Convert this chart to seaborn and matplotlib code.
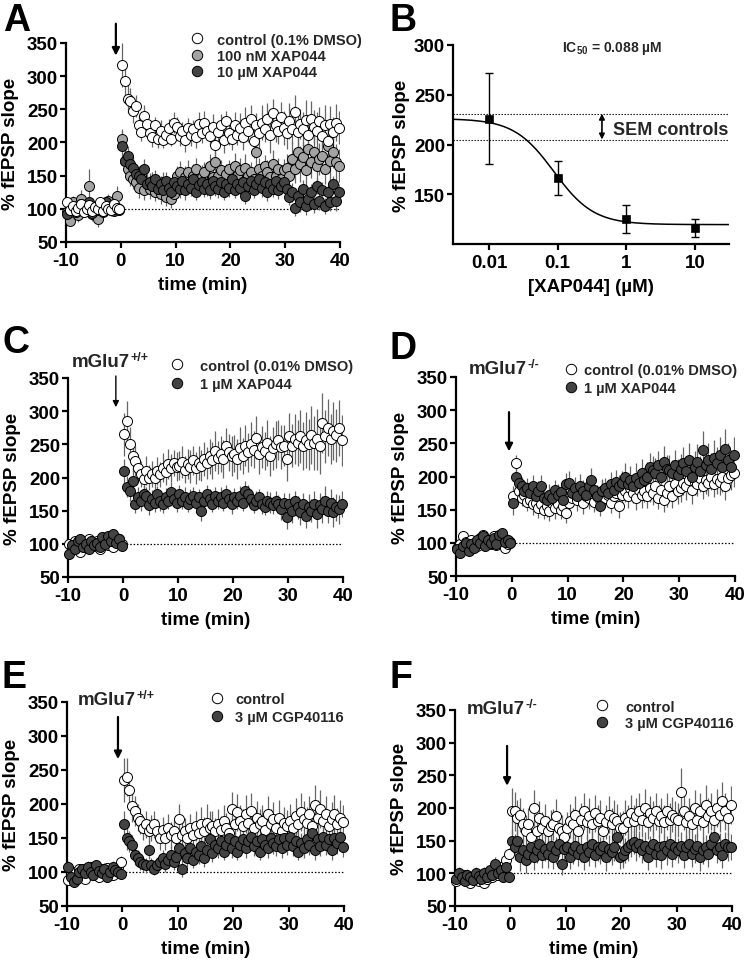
import numpy as np
import matplotlib
matplotlib.use("Agg")
import matplotlib.pyplot as plt
import seaborn as sns
from matplotlib.lines import Line2D

sns.set_theme(style="ticks")
plt.rcParams['font.family'] = ['Liberation Sans', 'DejaVu Sans']
plt.rcParams['font.weight'] = 'bold'
plt.rcParams['axes.labelweight'] = 'bold'
plt.rcParams['axes.unicode_minus'] = False
plt.rcParams['mathtext.fontset'] = 'custom'
plt.rcParams['mathtext.rm'] = 'Liberation Sans:bold'
plt.rcParams['mathtext.bf'] = 'Liberation Sans:bold'
plt.rcParams['mathtext.it'] = 'Liberation Sans:bold'
plt.rcParams['mathtext.default'] = 'rm'

# ---------------- data ----------------
TIME = np.arange(-9.75, 40, 0.5)          # sampling grid (min), 100 points

A_CTRL = [110, 98, 104, 96, 102, 108, 95, 100, 106, 97, 103, 99, 110, 96, 104, 100, 98, 107, 101, 99,
          317, 292, 266, 262, 248, 255, 226, 216, 240, 228,
          214, 208, 226, 205, 218, 204, 212, 222, 206, 230,
          224, 210, 218, 204, 222, 212, 220, 208, 228, 214,
          230, 218, 210, 224, 196, 216, 226, 204, 232, 214,
          206, 226, 212, 222, 208, 230, 218, 236, 202, 226,
          214, 230, 220, 236, 212, 244, 226, 218, 238, 222,
          214, 232, 220, 246, 216, 228, 220, 234, 212, 236,
          224, 218, 232, 210, 226, 202, 228, 216, 230, 222]
A_CTRL_SEM = [8, 6, 7, 5, 6, 8, 5, 6, 7, 5, 6, 5, 8, 6, 7, 5, 6, 7, 6, 5,
              33, 28, 22, 20, 18, 16, 15, 14, 16, 14,
              13, 15, 12, 14, 16, 13, 15, 14, 12, 16,
              14, 16, 13, 18, 15, 17, 14, 16, 18, 15,
              17, 14, 16, 19, 22, 15, 17, 20, 16, 18,
              18, 20, 16, 22, 19, 24, 18, 21, 25, 19,
              22, 26, 20, 24, 28, 22, 25, 20, 23, 26,
              24, 27, 22, 25, 28, 23, 26, 30, 24, 27,
              25, 28, 22, 26, 30, 24, 27, 23, 28, 25]
A_100NM = [95, 82, 110, 100, 90, 115, 98, 105, 135, 92, 100, 85, 108, 95, 102, 112, 98, 105, 120, 100,
           205, 172, 160, 150, 145, 140, 132, 150, 128, 138,
           130, 142, 125, 136, 122, 140, 118, 130, 115, 122,
           150, 155, 140, 148, 156, 138, 150, 160, 142, 148,
           155, 135, 165, 148, 170, 150, 158, 140, 152, 160,
           145, 165, 150, 158, 140, 162, 150, 155, 145, 185,
           160, 150, 165, 155, 148, 168, 150, 160, 145, 158,
           162, 150, 175, 160, 185, 168, 178, 158, 190, 170,
           185, 165, 175, 180, 160, 195, 172, 185, 170, 165]
A_100NM_SEM = [10, 8, 9, 12, 10, 14, 9, 11, 25, 10, 9, 12, 10, 8, 11, 10, 9, 12, 14, 10,
               15, 20, 18, 16, 15, 14, 16, 15, 14, 16,
               15, 14, 13, 15, 14, 16, 13, 15, 14, 13,
               15, 17, 14, 16, 18, 15, 17, 16, 14, 18,
               16, 15, 17, 14, 18, 16, 15, 17, 16, 14,
               17, 19, 16, 18, 15, 20, 17, 16, 18, 20,
               17, 19, 16, 18, 17, 20, 18, 16, 19, 17,
               20, 22, 25, 21, 24, 27, 22, 26, 28, 23,
               25, 27, 24, 28, 22, 26, 29, 24, 27, 25]
A_10UM = [92, 98, 105, 95, 100, 108, 97, 103, 110, 94, 102, 98, 105, 96, 110, 100, 104, 97, 102, 98,
          195, 172, 180, 168, 162, 152, 150, 145, 160, 138,
          140, 135, 145, 130, 138, 128, 142, 132, 125, 140,
          135, 130, 142, 128, 138, 132, 145, 125, 136, 140,
          130, 138, 128, 142, 135, 130, 140, 126, 138, 132,
          145, 128, 138, 132, 140, 120, 135, 142, 128, 138,
          145, 132, 140, 125, 138, 130, 142, 128, 135, 140,
          130, 118, 125, 102, 120, 110, 130, 105, 115, 125,
          108, 135, 112, 128, 104, 125, 110, 138, 112, 125]
A_10UM_SEM = [6, 5, 7, 6, 5, 8, 6, 5, 7, 6, 5, 6, 7, 5, 6, 8, 5, 6, 7, 6,
              22, 18, 15, 14, 16, 13, 14, 12, 15, 13,
              14, 12, 13, 15, 12, 14, 13, 12, 14, 13,
              12, 14, 13, 15, 12, 13, 14, 12, 15, 13,
              12, 14, 13, 12, 15, 13, 14, 12, 13, 14,
              13, 12, 14, 13, 15, 12, 13, 14, 12, 15,
              13, 14, 12, 13, 15, 12, 14, 13, 12, 14,
              13, 12, 14, 13, 12, 15, 13, 14, 12, 13,
              15, 12, 14, 13, 12, 14, 13, 12, 15, 13]

XAP_CONC = [0.01, 0.1, 1, 10]
XAP_MEAN = [226, 166, 125, 116]
XAP_SEM = [46, 17, 14, 9]
FIT_TOP, FIT_BOTTOM, FIT_IC50, FIT_HILL = 226, 119.5, 0.088, 1.5
SEM_CTRL_HI, SEM_CTRL_LO = 231, 205

C_CTRL = [100, 92, 105, 98, 88, 102, 95, 108, 100, 97, 104, 92, 100, 106, 98, 102, 95, 104, 108, 100,
          265, 285, 250, 232, 225, 215, 205, 198, 210, 200,
          205, 200, 210, 205, 215, 208, 220, 214, 222, 216,
          218, 224, 212, 220, 216, 226, 214, 222, 218, 228,
          222, 232, 226, 240, 230, 236, 228, 248, 238, 232,
          236, 228, 244, 232, 248, 238, 250, 242, 260, 236,
          246, 240, 252, 232, 244, 250, 256, 246, 248, 228,
          262, 248, 258, 252, 262, 248, 256, 250, 264, 252,
          258, 248, 282, 262, 275, 258, 270, 264, 275, 256]
C_CTRL_SEM = [5, 6, 4, 5, 6, 5, 4, 6, 5, 5, 6, 4, 5, 6, 5, 4, 6, 5, 5, 6,
              32, 30, 26, 24, 22, 20, 20, 18, 22, 19,
              20, 18, 21, 19, 22, 20, 23, 21, 20, 22,
              22, 24, 21, 23, 25, 22, 24, 26, 23, 25,
              24, 26, 28, 30, 25, 27, 29, 26, 28, 30,
              28, 30, 32, 27, 31, 29, 33, 28, 32, 30,
              31, 29, 34, 30, 32, 35, 30, 33, 31, 34,
              35, 32, 38, 34, 40, 36, 42, 38, 44, 40,
              46, 42, 45, 40, 43, 38, 44, 40, 42, 38]
C_XAP = [85, 98, 92, 105, 108, 95, 100, 92, 105, 98, 102, 95, 110, 100, 112, 104, 115, 102, 108, 97,
         210, 186, 180, 195, 160, 170, 165, 175, 172, 158,
         168, 162, 175, 165, 160, 170, 165, 178, 168, 162,
         175, 165, 170, 160, 168, 172, 162, 170, 150, 165,
         175, 168, 160, 172, 165, 170, 162, 175, 168, 160,
         170, 165, 172, 162, 180, 175, 168, 158, 165, 170,
         160, 155, 165, 162, 158, 165, 160, 152, 162, 140,
         160, 150, 165, 155, 148, 160, 142, 155, 150, 160,
         145, 158, 152, 165, 150, 162, 148, 155, 152, 160]
C_XAP_SEM = [8, 6, 7, 9, 6, 8, 7, 6, 8, 7, 6, 8, 7, 9, 6, 8, 7, 6, 8, 7,
             18, 16, 15, 20, 14, 16, 15, 13, 14, 15,
             13, 14, 12, 15, 13, 14, 12, 15, 13, 14,
             14, 13, 15, 12, 14, 13, 15, 12, 16, 14,
             13, 15, 12, 14, 13, 15, 12, 14, 13, 15,
             14, 13, 15, 12, 14, 13, 15, 12, 14, 13,
             15, 12, 14, 16, 13, 15, 14, 16, 15, 18,
             16, 18, 15, 17, 19, 16, 18, 20, 17, 19,
             21, 18, 20, 22, 19, 21, 23, 20, 22, 20]

D_CTRL = [92, 98, 110, 102, 96, 104, 100, 95, 108, 112, 100, 104, 98, 110, 96, 102, 100, 92, 98, 102,
          170, 220, 178, 168, 172, 162, 165, 158, 160, 152,
          158, 150, 155, 148, 160, 152, 158, 150, 155, 145,
          160, 168, 175, 165, 172, 160, 170, 168, 175, 162,
          170, 165, 178, 168, 172, 160, 170, 175, 155, 172,
          178, 170, 182, 175, 168, 180, 172, 178, 170, 182,
          175, 185, 168, 180, 165, 175, 185, 170, 188, 178,
          182, 190, 185, 195, 180, 192, 188, 198, 185, 195,
          190, 200, 188, 196, 192, 200, 185, 198, 202, 205]
D_CTRL_SEM = [6, 5, 7, 6, 5, 6, 7, 5, 6, 7, 5, 6, 7, 5, 6, 7, 5, 6, 7, 6,
              15, 12, 14, 13, 15, 14, 13, 16, 14, 15,
              13, 14, 16, 15, 14, 16, 15, 14, 13, 15,
              16, 14, 15, 17, 14, 16, 15, 17, 14, 16,
              15, 17, 16, 14, 17, 15, 16, 14, 17, 15,
              16, 18, 17, 15, 18, 16, 19, 17, 18, 20,
              18, 19, 17, 20, 18, 21, 19, 17, 20, 19,
              20, 18, 21, 19, 22, 20, 18, 21, 19, 22,
              20, 21, 19, 22, 20, 23, 21, 19, 22, 21]
D_XAP = [90, 85, 95, 100, 88, 98, 92, 105, 100, 110, 95, 104, 100, 108, 98, 112, 115, 102, 105, 100,
         160, 200, 190, 185, 178, 182, 175, 185, 170, 178,
         185, 168, 165, 172, 168, 180, 172, 176, 165, 188,
         190, 175, 182, 170, 186, 178, 172, 185, 195, 180,
         170, 155, 178, 182, 175, 188, 180, 192, 185, 190,
         200, 188, 195, 185, 198, 190, 205, 195, 200, 215,
         210, 205, 218, 200, 222, 212, 210, 205, 218, 202,
         212, 220, 208, 225, 200, 215, 222, 208, 240, 218,
         225, 212, 228, 220, 232, 215, 242, 225, 215, 232]
D_XAP_SEM = [8, 6, 7, 8, 6, 7, 8, 6, 7, 8, 6, 7, 8, 6, 7, 8, 6, 7, 8, 6,
             18, 20, 16, 15, 17, 16, 15, 17, 16, 15,
             17, 16, 15, 17, 16, 15, 17, 16, 15, 17,
             18, 16, 17, 15, 18, 16, 17, 15, 18, 16,
             17, 15, 18, 16, 17, 19, 16, 18, 17, 19,
             20, 18, 21, 19, 22, 20, 21, 19, 22, 20,
             21, 23, 20, 22, 24, 21, 23, 20, 22, 24,
             22, 25, 23, 26, 22, 24, 27, 23, 28, 25,
             26, 24, 27, 25, 28, 24, 30, 26, 25, 27]

E_CTRL = [88, 95, 100, 92, 105, 98, 90, 102, 108, 95, 100, 92, 104, 98, 106, 100, 95, 103, 108, 115,
          235, 240, 220, 197, 190, 180, 175, 165, 170, 160,
          165, 170, 160, 150, 162, 150, 165, 155, 160, 150,
          178, 155, 160, 150, 165, 155, 168, 158, 170, 160,
          172, 165, 168, 160, 170, 162, 175, 165, 158, 192,
          170, 188, 175, 168, 185, 172, 190, 165, 180, 170,
          175, 162, 185, 170, 178, 165, 180, 160, 172, 168,
          175, 165, 182, 170, 188, 178, 172, 185, 168, 198,
          180, 192, 175, 185, 168, 178, 185, 170, 180, 173]
E_CTRL_SEM = [6, 5, 7, 6, 5, 6, 7, 5, 6, 7, 5, 6, 7, 5, 6, 7, 5, 6, 7, 8,
              32, 28, 25, 24, 22, 20, 19, 18, 20, 18,
              19, 20, 18, 17, 19, 18, 20, 19, 18, 17,
              22, 18, 20, 17, 21, 19, 22, 20, 25, 21,
              28, 24, 22, 20, 23, 21, 24, 22, 20, 26,
              24, 27, 23, 25, 28, 24, 26, 22, 25, 23,
              24, 22, 27, 23, 25, 21, 26, 22, 24, 23,
              25, 23, 27, 24, 28, 26, 24, 27, 23, 30,
              26, 28, 24, 27, 23, 25, 28, 24, 26, 25]
E_CGP = [108, 92, 85, 90, 100, 105, 98, 108, 100, 95, 110, 102, 98, 105, 92, 100, 108, 103, 100, 97,
         170, 150, 145, 140, 125, 120, 115, 112, 110, 133,
         110, 105, 110, 115, 120, 112, 118, 125, 115, 122,
         135, 105, 128, 120, 135, 118, 130, 125, 138, 120,
         132, 148, 128, 140, 135, 145, 130, 140, 150, 135,
         145, 130, 140, 148, 135, 145, 152, 138, 145, 130,
         148, 140, 135, 150, 142, 138, 148, 135, 150, 140,
         152, 138, 145, 130, 142, 135, 148, 140, 158, 132,
         148, 138, 152, 140, 148, 132, 150, 142, 152, 137]
E_CGP_SEM = [8, 6, 7, 6, 8, 7, 6, 8, 7, 6, 8, 7, 6, 8, 7, 6, 8, 7, 6, 7,
             20, 18, 16, 15, 14, 13, 12, 12, 11, 14,
             11, 10, 11, 12, 13, 12, 12, 13, 12, 13,
             14, 12, 13, 12, 14, 12, 13, 13, 14, 12,
             13, 15, 13, 14, 14, 15, 13, 14, 15, 14,
             15, 13, 14, 15, 14, 15, 16, 14, 15, 13,
             15, 14, 14, 16, 15, 14, 15, 14, 16, 15,
             16, 14, 15, 13, 15, 14, 16, 15, 17, 14,
             16, 15, 16, 15, 16, 14, 16, 15, 16, 15]

F_CTRL = [88, 95, 92, 98, 90, 85, 95, 92, 88, 96, 85, 92, 98, 95, 102, 98, 110, 105, 120, 130,
          195, 195, 185, 190, 175, 165, 175, 155, 200, 165,
          185, 170, 180, 165, 172, 175, 188, 170, 165, 155,
          170, 180, 175, 190, 165, 182, 195, 178, 188, 175,
          192, 180, 185, 165, 178, 190, 175, 185, 180, 170,
          170, 185, 178, 192, 180, 188, 195, 182, 200, 178,
          192, 185, 195, 180, 188, 178, 195, 182, 190, 185,
          182, 225, 195, 178, 188, 175, 200, 182, 195, 178,
          205, 188, 195, 182, 200, 190, 210, 195, 185, 205]
F_CTRL_SEM = [8, 7, 6, 7, 8, 6, 7, 8, 6, 7, 8, 6, 7, 8, 7, 6, 8, 7, 8, 9,
              35, 30, 28, 26, 25, 24, 25, 22, 28, 24,
              25, 24, 26, 23, 25, 24, 26, 23, 25, 22,
              24, 26, 25, 28, 23, 26, 28, 25, 27, 24,
              28, 25, 27, 23, 26, 28, 25, 27, 26, 24,
              25, 27, 26, 28, 25, 27, 28, 26, 29, 25,
              27, 26, 28, 25, 27, 26, 28, 26, 27, 26,
              26, 36, 28, 25, 27, 24, 28, 26, 28, 25,
              30, 27, 28, 26, 29, 27, 30, 28, 26, 29]
F_CGP = [92, 100, 95, 88, 98, 94, 90, 100, 96, 92, 100, 95, 105, 98, 115, 100, 105, 95, 110, 95,
         150, 140, 150, 125, 135, 120, 130, 140, 125, 135,
         145, 128, 138, 130, 142, 125, 135, 145, 115, 138,
         140, 125, 135, 142, 130, 138, 125, 140, 132, 145,
         128, 140, 135, 142, 125, 138, 132, 140, 155, 125,
         128, 135, 140, 145, 148, 140, 145, 135, 142, 125,
         138, 145, 130, 140, 128, 142, 135, 145, 130, 140,
         135, 142, 128, 140, 145, 130, 138, 142, 125, 135,
         140, 130, 145, 155, 135, 140, 128, 145, 140, 140]
F_CGP_SEM = [8, 9, 7, 8, 9, 7, 8, 9, 7, 8, 9, 7, 8, 9, 10, 8, 9, 8, 10, 8,
             18, 20, 18, 22, 19, 20, 18, 21, 20, 19,
             21, 20, 19, 22, 20, 19, 21, 20, 18, 20,
             20, 19, 21, 20, 19, 21, 20, 19, 21, 20,
             19, 21, 20, 19, 21, 20, 19, 21, 22, 19,
             20, 19, 21, 20, 19, 21, 20, 19, 21, 20,
             19, 21, 20, 19, 21, 20, 22, 19, 21, 20,
             19, 21, 20, 19, 21, 20, 22, 19, 21, 20,
             19, 21, 20, 22, 19, 21, 20, 19, 21, 20]

TIME_TICKS = [-10, 0, 10, 20, 30, 40]
SLOPE_TICKS = [50, 100, 150, 200, 250, 300, 350]
XAP_TICKS = [0.01, 0.1, 1, 10]
XAP_TICKLABELS = ['0.01', '0.1', '1', '10']

WHITE, GRAY, DARK = 'white', '#a3a3a3', '#434343'
ERR = '#666666'

# ---------------- helpers ----------------
W, H = 745, 962
fig = plt.figure(figsize=(W / 100, H / 100), dpi=100)


def fx(x):
    return x / W


def fy(y):
    return 1 - y / H


def add_ax(left, top, right, bottom):
    return fig.add_axes([fx(left), fy(bottom), (right - left) / W, (bottom - top) / H])


def style_axes(ax, ylab_x):
    sns.despine(ax=ax)
    for s in ['left', 'bottom']:
        ax.spines[s].set_linewidth(1.6)
        ax.spines[s].set_color('black')
    ax.tick_params(axis='both', width=1.6, length=4.5, labelsize=13.5, colors='black', pad=1.2)
    ax.tick_params(axis='x', pad=2.5)
    ax.set_ylabel('% fEPSP slope', fontsize=13.5, fontweight='bold', color='black')
    ax.yaxis.set_label_coords(ylab_x, 0.5)


def time_panel(ax, series, ylab_x):
    for y, e, face in series:
        y = np.asarray(y, float)
        e = np.asarray(e, float)
        ax.vlines(TIME, y - e, y + e, color=ERR, lw=0.9, zorder=1)
    for y, e, face in series:
        sns.scatterplot(x=TIME, y=y, ax=ax, color=face, edgecolor='black', linewidth=0.7,
                        s=52, zorder=3, legend=False, clip_on=False)
    ax.hlines(100, 0, 40, colors='black', linestyles=(0, (1.2, 1.5)), lw=0.9, zorder=0)
    ax.set_xlim(-10, 40)
    ax.set_ylim(50, 350)
    ax.set_xticks(TIME_TICKS)
    ax.set_yticks(SLOPE_TICKS)
    ax.set_xlabel('time (min)', fontsize=13.5, fontweight='bold', color='black', labelpad=5)
    style_axes(ax, ylab_x)


def legend(ax, entries, x0, top, hl, pad, ls):
    handles = [Line2D([], [], marker='o', ls='', markersize=7.5, mfc=c, mec='black', mew=0.7)
               for c, _ in entries]
    labels = [t for _, t in entries]
    ax.legend(handles, labels, loc='upper left', bbox_to_anchor=(fx(x0), fy(top)),
              bbox_transform=fig.transFigure, frameon=False, borderpad=0, borderaxespad=0,
              handlelength=hl, handletextpad=pad, labelspacing=ls,
              prop={'size': 10.5, 'weight': 'bold'})


def arrow(ax, x, y_tail, y_tip, lw=1.6, ms=11):
    ax.annotate('', xy=(x, y_tip), xytext=(x, y_tail), annotation_clip=False,
                arrowprops=dict(arrowstyle='-|>', color='black', lw=lw, mutation_scale=ms,
                                shrinkA=0, shrinkB=0))


def letter(x, y, t):
    fig.text(fx(x), fy(y), t, fontsize=27, fontweight='bold', va='top', ha='left', color='black')


def genotype(ax, x, y_base, sup):
    t = fig.text(fx(x), fy(y_base), 'mGlu7', fontsize=13.5, fontweight='bold', va='baseline')
    ax.annotate(sup, xy=(1.0, 1.0), xycoords=t, xytext=(0.5, 1.5), textcoords='offset points',
                fontsize=9, fontweight='bold', ha='left', va='top', annotation_clip=False)


# ---------------- Panel A ----------------
axA = add_ax(66, 44, 340, 243)
time_panel(axA, [(A_100NM, A_100NM_SEM, GRAY), (A_10UM, A_10UM_SEM, DARK),
                 (A_CTRL, A_CTRL_SEM, WHITE)], -0.17)
arrow(axA, -0.9, 379, 331)
legend(axA, [(WHITE, 'control (0.1% DMSO)'), (GRAY, '100 nM XAP044'), (DARK, '10 µM XAP044')],
       190, 33.5, 1.0, 0.85, 0.17)
letter(3, 3, 'A')

# ---------------- Panel B ----------------
axB = add_ax(453, 46, 729, 245)
axB.errorbar(XAP_CONC, XAP_MEAN, yerr=XAP_SEM, fmt='none', ecolor='black', elinewidth=1.0,
             capsize=3, capthick=1.0, zorder=2)
sns.scatterplot(x=XAP_CONC, y=XAP_MEAN, marker='s', color='black', edgecolor='black', s=36,
                ax=axB, zorder=3, legend=False)
xfit = np.logspace(np.log10(0.003), np.log10(31), 300)
yfit = FIT_BOTTOM + (FIT_TOP - FIT_BOTTOM) / (1 + (xfit / FIT_IC50) ** FIT_HILL)
sns.lineplot(x=xfit, y=yfit, color='black', lw=1.1, ax=axB)
for v in (SEM_CTRL_HI, SEM_CTRL_LO):
    axB.axhline(v, color='black', ls=(0, (1.2, 1.5)), lw=0.8)
axB.set_xscale('log')
axB.set_xlim(0.003, 31)
axB.set_ylim(100, 300)
axB.set_xticks(XAP_TICKS)
axB.set_xticklabels(XAP_TICKLABELS)
axB.xaxis.set_minor_locator(matplotlib.ticker.NullLocator())
axB.set_yticks([150, 200, 250, 300])
axB.set_xlabel('[XAP044] (µM)', fontsize=13.5, fontweight='bold', color='black', labelpad=5)
style_axes(axB, -0.155)
axB.annotate('', xy=(0.44, SEM_CTRL_HI), xytext=(0.44, SEM_CTRL_LO),
             arrowprops=dict(arrowstyle='<|-|>', color='black', lw=1.2, mutation_scale=8,
                             shrinkA=0, shrinkB=0))
fig.text(fx(613), fy(135), 'SEM controls', fontsize=13, fontweight='bold', ha='left', va='baseline')
fig.text(fx(612), fy(52), r'IC$_{50}$ = 0.088 µM', fontsize=10, fontweight='bold', ha='center',
         va='baseline')
letter(389, 3, 'B')

# ---------------- Panel C ----------------
axC = add_ax(68, 379, 343, 578)
time_panel(axC, [(C_CTRL, C_CTRL_SEM, WHITE), (C_XAP, C_XAP_SEM, DARK)], -0.17)
arrow(axC, -1.3, 353, 306, lw=1.0, ms=9)
legend(axC, [(WHITE, 'control (0.01% DMSO)'), (DARK, '1 µM XAP044')], 170, 359.5, 1.0, 1.05, 0.34)
genotype(axC, 72, 367, '+/+')
letter(2, 325, 'C')

# ---------------- Panel D ----------------
axD = add_ax(456, 378, 735, 577)
time_panel(axD, [(D_CTRL, D_CTRL_SEM, WHITE), (D_XAP, D_XAP_SEM, DARK)], -0.17)
arrow(axD, -0.5, 297, 238)
legend(axD, [(WHITE, 'control (0.01% DMSO)'), (DARK, '1 µM XAP044')], 565, 364.5, 0.8, 0.5, 0.27)
genotype(axD, 469, 374, '-/-')
letter(389, 331, 'D')

# ---------------- Panel E ----------------
axE = add_ax(67, 703, 344, 907)
time_panel(axE, [(E_CTRL, E_CTRL_SEM, WHITE), (E_CGP, E_CGP_SEM, DARK)], -0.17)
arrow(axE, -0.8, 328, 266)
legend(axE, [(WHITE, 'control'), (DARK, '3 µM CGP40116')], 210, 693.5, 1.0, 0.71, 0.25)
genotype(axE, 78, 705, '+/+')
letter(2, 660, 'E')

# ---------------- Panel F ----------------
axF = add_ax(455, 711, 732, 907)
time_panel(axF, [(F_CTRL, F_CTRL_SEM, WHITE), (F_CGP, F_CGP_SEM, DARK)], -0.17)
arrow(axF, -0.6, 295, 234)
legend(axF, [(WHITE, 'control'), (DARK, '3 µM CGP40116')], 595, 700.5, 1.0, 1.06, 0.2)
genotype(axF, 467, 714, '-/-')
letter(390, 660, 'F')

fig.savefig('out.png', dpi=100, facecolor='white')
